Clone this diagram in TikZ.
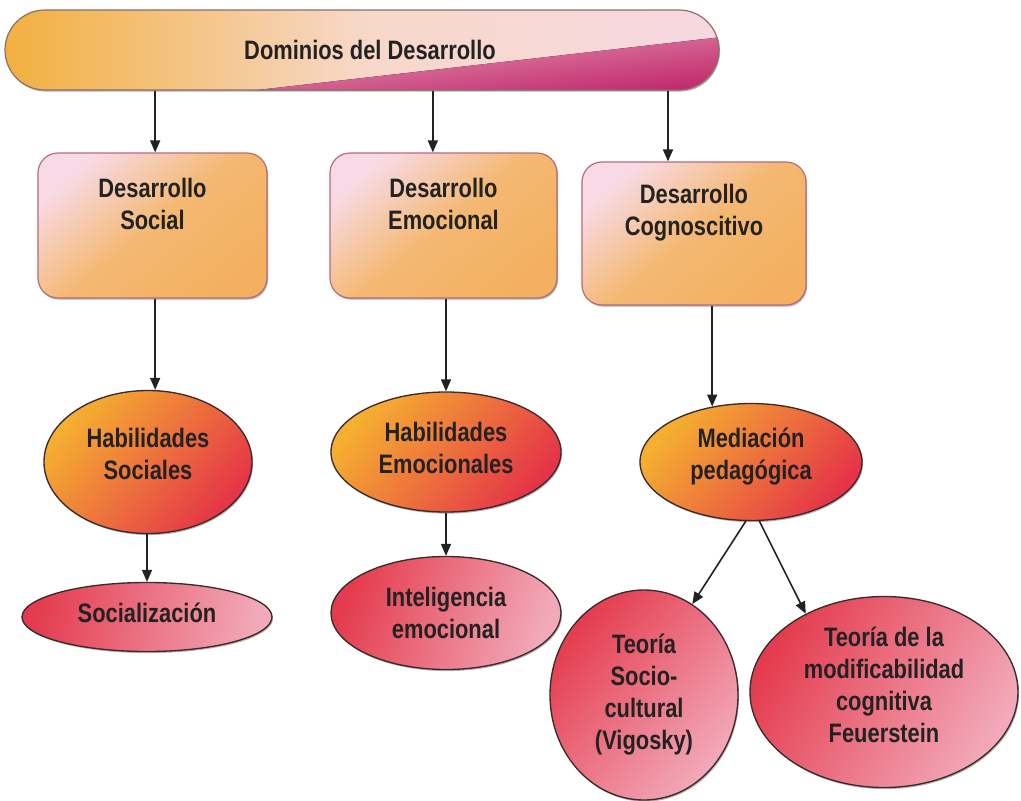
\documentclass[tikz,border=0pt]{standalone}
\usepackage{fontspec}
\newfontfamily\lbl{Liberation Sans}[FakeStretch=0.82]
\usetikzlibrary{shapes.geometric,shapes.misc,arrows.meta,shadows,calc}
\definecolor{ink}{HTML}{222222}
\definecolor{bOrange}{HTML}{F2B040}
\definecolor{bMid}{HTML}{F7D8C8}
\definecolor{bPale}{HTML}{F6D8E2}
\definecolor{bMag}{HTML}{C2286A}
\definecolor{bLine}{HTML}{8E6E68}
\definecolor{boxTop}{HTML}{F8DAE6}
\definecolor{boxMid}{HTML}{F4B872}
\definecolor{boxBot}{HTML}{F3B060}
\definecolor{boxLine}{HTML}{B86A78}
\definecolor{hOrange}{HTML}{F5B030}
\definecolor{hRed}{HTML}{E53448}
\definecolor{pRed}{HTML}{E43C4E}
\definecolor{pPink}{HTML}{F2AABA}
\definecolor{eLine}{HTML}{3A2A2A}
\begin{document}
\begin{tikzpicture}[x=0.75pt,y=-0.75pt,
  txt/.style={font=\lbl\bfseries\fontsize{20pt}{24pt}\selectfont, text=ink, align=center},
  every label/.style={txt},
  shad/.style={drop shadow={shadow xshift=0.8pt, shadow yshift=-1.2pt, opacity=0.3, fill=black}},
  banner/.style={rounded rectangle, draw=bLine, line width=0.9pt, inner sep=0pt,
    left color=bOrange, right color=bPale, middle color=bMid, shad},
  devbox/.style={rectangle, rounded corners=15pt, draw=boxLine, line width=0.9pt, inner sep=0pt,
    top color=boxTop, bottom color=boxBot, middle color=boxMid, shading angle=40, shad},
  habell/.style={ellipse, draw=eLine, line width=1pt, inner sep=0pt,
    top color=hOrange, bottom color=hRed, shading angle=50, shad},
  pinkell/.style={ellipse, draw=eLine, line width=1pt, inner sep=0pt,
    top color=pRed, bottom color=pPink, shading angle=50, shad},
  arr/.style={draw=ink, line width=1.2pt, -{Triangle[length=9pt,width=7.5pt]}}
]
\useasboundingbox (0,0) rectangle (1021,800);

% banner
\node[banner, minimum width=714*0.75pt, minimum height=80*0.75pt,
  path picture={\fill[top color=bPale, bottom color=bMag, shading angle=6.4]
    ($(path picture bounding box.south west)+(235,2)$) --
    ($(path picture bounding box.north east)+(12,26)$) --
    ($(path picture bounding box.south east)+(12,2)$) -- cycle;},
  label={[xshift=6pt]center:Dominios del Desarrollo}] (dom) at (362,50) {};

% development boxes
\node[devbox, minimum width=229*0.75pt, minimum height=145*0.75pt,
  label={[yshift=16pt]center:Desarrollo\\Social}] (soc) at (152.5,225.5) {};
\node[devbox, minimum width=227*0.75pt, minimum height=145*0.75pt,
  label={[yshift=16pt]center:Desarrollo\\Emocional}] (emo) at (443.5,225.5) {};
\node[devbox, minimum width=224*0.75pt, minimum height=143*0.75pt,
  label={[yshift=16pt]center:Desarrollo\\Cognoscitivo}] (cog) at (694,233.5) {};

% skill ellipses
\node[habell, minimum width=208*0.75pt, minimum height=143*0.75pt,
  label={[yshift=6pt]center:Habilidades\\Sociales}] (hsoc) at (148,462) {};
\node[habell, minimum width=230*0.75pt, minimum height=120*0.75pt,
  label={[yshift=3pt]center:Habilidades\\Emocionales}] (hemo) at (446,452) {};
\node[habell, minimum width=222*0.75pt, minimum height=117*0.75pt,
  label={[yshift=4pt]center:Mediación\\pedagógica}] (med) at (751,462) {};

% bottom ellipses
\node[pinkell, minimum width=250*0.75pt, minimum height=69*0.75pt,
  shading angle=80, label={[yshift=3pt]center:Socialización}] (socz) at (147,617) {};
\node[pinkell, minimum width=230*0.75pt, minimum height=113*0.75pt,
  shading angle=70, label={center:Inteligencia\\emocional}] (intel) at (446,613) {};
\node[pinkell, minimum width=188*0.75pt, minimum height=210*0.75pt,
  label={center:Teoría\\Socio-\\cultural\\(Vigosky)}] (teo1) at (644,695) {};
\node[pinkell, minimum width=268*0.75pt, minimum height=191*0.75pt,
  shading angle=60, label={[yshift=5pt]center:Teoría de la\\modificabilidad\\cognitiva\\Feuerstein}] (teo2) at (884,692) {};

% connectors
\draw[arr] ([xshift=2pt]soc.north |- dom.south) -- ([xshift=2pt]soc.north);
\draw[arr] ([xshift=-8pt]emo.north |- dom.south) -- ([xshift=-8pt]emo.north);
\draw[arr] ([xshift=-19.5pt]cog.north |- dom.south) -- ([xshift=-19.5pt]cog.north);

\draw[arr] ([xshift=2pt]soc.south) -- ([xshift=2pt]soc.south |- hsoc.north);
\draw[arr] (emo.south -| hemo.north) -- (hemo.north);
\draw[arr] (cog.south -| med.125) -- (med.125);

\draw[arr] (hsoc.south -| socz.north) -- (socz.north);
\draw[arr] (hemo.south) -- (intel.north);
\draw[arr] (med.-95) -- (teo1.62);
\draw[arr] (med.-82) -- (teo2.135);
\end{tikzpicture}
\end{document}
